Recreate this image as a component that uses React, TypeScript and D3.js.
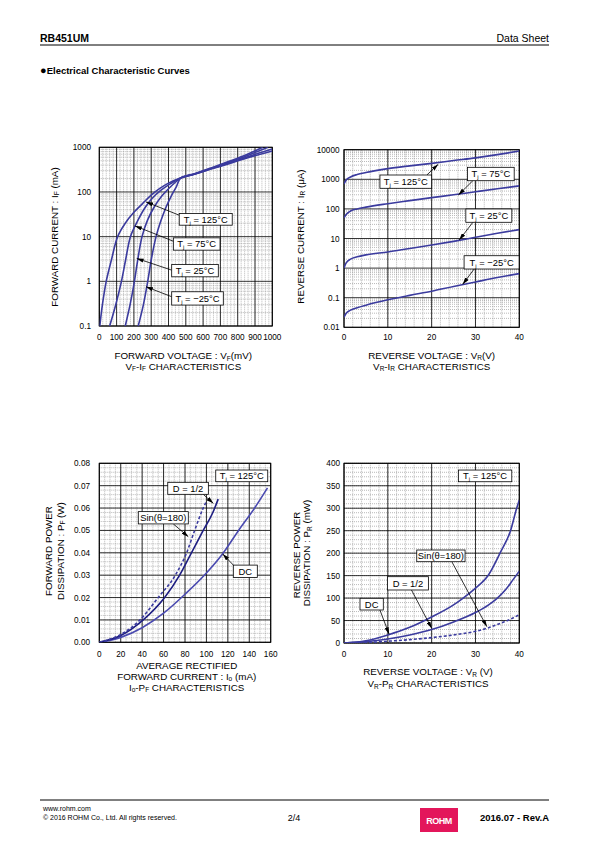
import React from "react";
import * as d3 from "d3";

type Pt = [number, number];

const FONT = "'Liberation Sans', Arial, Helvetica, sans-serif";

// ---------------- Chart 1 : VF - IF ----------------
const vfTicks = [0, 100, 200, 300, 400, 500, 600, 700, 800, 900, 1000];
const vfMinor = d3.range(0, 1001, 20);
const ifTicks = [0.1, 1, 10, 100, 1000];
const ifTickLabels = ["0.1", "1", "10", "100", "1000"];
const vfIf125: Pt[] = [[3, 0.1], [18, 0.3], [40, 1], [70, 3], [106, 10], [150, 20], [200, 35], [250, 55], [300, 85], [350, 120], [400, 158], [470, 205], [550, 250], [650, 330], [750, 430], [850, 570], [1000, 830]];
const vfIf75: Pt[] = [[60, 0.1], [95, 0.3], [128, 1], [152, 3], [180, 10], [220, 22], [265, 45], [310, 75], [355, 108], [410, 152], [470, 205], [550, 252], [650, 335], [750, 445], [850, 600], [1000, 920]];
const vfIf25: Pt[] = [[150, 0.1], [178, 0.3], [203, 1], [222, 3], [247, 10], [280, 24], [320, 48], [360, 80], [400, 118], [440, 165], [470, 205], [550, 254], [650, 340], [750, 465], [850, 640], [975, 1000]];
const vfIfM25: Pt[] = [[225, 0.1], [255, 0.3], [280, 1], [300, 3], [328, 10], [355, 22], [385, 45], [415, 80], [445, 130], [470, 205], [550, 256], [650, 350], [750, 485], [850, 680], [945, 1000]];

// ---------------- Chart 2 : VR - IR ----------------
const vrTicks = [0, 10, 20, 30, 40];
const vrMinor = d3.range(0, 41, 2);
const irTicks = [0.01, 0.1, 1, 10, 100, 1000, 10000];
const irTickLabels = ["0.01", "0.1", "1", "10", "100", "1000", "10000"];
const vrIr125: Pt[] = [[0, 700], [0.5, 950], [1.5, 1200], [3, 1450], [5, 1700], [10, 2300], [15, 2850], [20, 3450], [25, 4300], [30, 5300], [35, 6800], [40, 9000]];
const vrIr75: Pt[] = [[0, 50], [0.5, 65], [1.5, 85], [3, 100], [5, 115], [10, 150], [15, 190], [20, 240], [25, 300], [30, 380], [35, 480], [40, 600]];
const vrIr25: Pt[] = [[0, 1.0], [0.5, 1.5], [1.5, 2.0], [3, 2.4], [5, 2.8], [10, 3.5], [15, 4.6], [20, 6.0], [25, 8.0], [30, 11], [35, 15], [40, 20]];
const vrIrM25: Pt[] = [[0, 0.022], [0.5, 0.03], [1.5, 0.038], [3, 0.046], [5, 0.056], [10, 0.085], [15, 0.12], [20, 0.165], [25, 0.24], [30, 0.34], [35, 0.48], [40, 0.65]];

// ---------------- Chart 3 : Io - PF ----------------
const ioTicks = [0, 20, 40, 60, 80, 100, 120, 140, 160];
const ioMinor = d3.range(0, 161, 5);
const pfTicks = [0, 0.01, 0.02, 0.03, 0.04, 0.05, 0.06, 0.07, 0.08];
const pfTickLabels = ["0.00", "0.01", "0.02", "0.03", "0.04", "0.05", "0.06", "0.07", "0.08"];
const pfMinor = d3.range(0, 0.0801, 0.002);
const ioPfDC: Pt[] = [[0, 0], [20, 0.0022], [40, 0.0065], [60, 0.013], [80, 0.0215], [100, 0.031], [115, 0.0395], [130, 0.05], [145, 0.06], [157, 0.069]];
const ioPfHalf: Pt[] = [[0, 0], [20, 0.003], [41, 0.01], [61, 0.02], [75, 0.03], [86, 0.04], [97, 0.05], [106, 0.058], [111, 0.064]];
const ioPfSin: Pt[] = [[0, 0], [20, 0.0035], [38, 0.01], [55, 0.02], [71, 0.03], [81.5, 0.04], [89, 0.05], [97, 0.06], [100, 0.063]];

// ---------------- Chart 4 : VR - PR ----------------
const vr2Ticks = [0, 10, 20, 30, 40];
const vr2Minor = d3.range(0, 41, 2);
const prTicks = [0, 50, 100, 150, 200, 250, 300, 350, 400];
const prMinor = d3.range(0, 401, 10);
const vrPrDC: Pt[] = [[0, 0], [5, 5], [10, 18], [15, 35], [20, 58], [25, 85], [27.2, 100], [30, 122], [33, 152], [35.6, 200], [38, 250], [39.4, 300], [40, 318]];
const vrPrHalf: Pt[] = [[0, 0], [5, 3], [10, 9], [15, 18], [20, 30], [25, 47], [30, 68], [33, 85], [35, 100], [37, 120], [38.5, 140], [40, 160]];
const vrPrSin: Pt[] = [[0, 0], [5, 1], [10, 4], [15, 7.5], [20, 12], [25, 18], [30, 26], [33, 34], [36, 45], [38, 53], [40, 63]];

const logMinor = (lo: number, hi: number) => {
  const out: number[] = [];
  for (let d = lo; d < hi; d *= 10) for (let k = 2; k <= 9; k++) out.push(+(d * k).toPrecision(6));
  return out;
};

interface Series { data: Pt[]; color: string; width?: number; dash?: string }
interface Ann { box: Pt; w: number; h: number; label: React.ReactNode; from?: Pt; tip?: Pt }

function Panel(props: {
  id: string;
  x: any; y: any;
  xMajor: number[]; xMinor: number[]; yMajor: number[]; yMinor: number[];
  xLabels: string[]; yLabels: string[];
  yLabelRight: number; xLabelBaseline: number;
  series: Series[]; anns: Ann[]; curve?: any;
}) {
  const { id, x, y, xMajor, xMinor, yMajor, yMinor, xLabels, yLabels, series, anns } = props;
  const [x0, x1] = x.range();
  const [y0, y1] = y.range(); // y0 bottom, y1 top
  const line = d3.line<Pt>().x((d) => x(d[0])).y((d) => y(d[1])).curve(props.curve ?? d3.curveMonotoneX);
  return (
    <g>
      <defs>
        <clipPath id={id}>
          <rect x={x0} y={y1} width={x1 - x0} height={y0 - y1} />
        </clipPath>
      </defs>
      <rect x={x0} y={y1} width={x1 - x0} height={y0 - y1} fill="#fff" />
      {xMinor.map((v, i) => (
        <line key={"xm" + i} x1={x(v)} x2={x(v)} y1={y1} y2={y0} stroke="#8a8a8a" strokeWidth={0.6} strokeDasharray="1,1" />
      ))}
      {yMinor.map((v, i) => (
        <line key={"ym" + i} x1={x0} x2={x1} y1={y(v)} y2={y(v)} stroke="#8a8a8a" strokeWidth={0.6} strokeDasharray="1,1" />
      ))}
      {xMajor.map((v, i) => (
        <line key={"xM" + i} x1={x(v)} x2={x(v)} y1={y1} y2={y0} stroke="#000" strokeWidth={0.8} />
      ))}
      {yMajor.map((v, i) => (
        <line key={"yM" + i} x1={x0} x2={x1} y1={y(v)} y2={y(v)} stroke="#000" strokeWidth={0.8} />
      ))}
      <rect x={x0} y={y1} width={x1 - x0} height={y0 - y1} fill="none" stroke="#000" strokeWidth={1} />
      <g clipPath={`url(#${id})`}>
        {series.map((s, i) => (
          <path key={"s" + i} d={line(s.data) || ""} fill="none" stroke={s.color} strokeWidth={s.width ?? 1.6} strokeDasharray={s.dash} />
        ))}
      </g>
      {xMajor.map((v, i) => (
        <text key={"xl" + i} x={x(v)} y={props.xLabelBaseline} fontSize={8.2} textAnchor="middle">{xLabels[i]}</text>
      ))}
      {yMajor.map((v, i) => (
        <text key={"yl" + i} x={props.yLabelRight} y={y(v) + 3} fontSize={8.2} textAnchor="end">{yLabels[i]}</text>
      ))}
      {anns.map((a, i) => {
        const bx = x(a.box[0]);
        const by = y(a.box[1]);
        return (
          <g key={"a" + i}>
            {a.from && a.tip && (
              <line x1={x(a.from[0])} y1={y(a.from[1])} x2={x(a.tip[0])} y2={y(a.tip[1])} stroke="#000" strokeWidth={0.8} markerEnd="url(#arrowHead)" />
            )}
            <rect x={bx} y={by} width={a.w} height={a.h} fill="#fff" stroke="#000" strokeWidth={0.8} />
            <text x={bx + a.w / 2} y={by + a.h / 2 + 3.4} fontSize={9.4} textAnchor="middle">{a.label}</text>
          </g>
        );
      })}
    </g>
  );
}

const tj = (t: string) => (
  <>
    <tspan>T</tspan>
    <tspan fontSize={6} dy={2}>j</tspan>
    <tspan dy={-2}>{" = " + t}</tspan>
  </>
);

function sub(main: string, s: string, rest: string) {
  return (
    <>
      <tspan>{main}</tspan>
      <tspan fontSize={6.5} dy={1.6}>{s}</tspan>
      <tspan dy={-1.6}>{rest}</tspan>
    </>
  );
}

function sub2(a: string, s1: string, b: string, s2: string, rest: string) {
  return (
    <>
      <tspan>{a}</tspan>
      <tspan fontSize={6.5} dy={1.6}>{s1}</tspan>
      <tspan dy={-1.6}>{b}</tspan>
      <tspan fontSize={6.5} dy={1.6}>{s2}</tspan>
      <tspan dy={-1.6}>{rest}</tspan>
    </>
  );
}

export default function App() {
  const c1x = d3.scaleLinear().domain([0, 1000]).range([99.3, 272.3]);
  const c1y = d3.scaleLog().domain([0.1, 1000]).range([326, 147.3]);
  const c2x = d3.scaleLinear().domain([0, 40]).range([344, 519.3]);
  const c2y = d3.scaleLog().domain([0.01, 10000]).range([327.3, 149.7]);
  const c3x = d3.scaleLinear().domain([0, 160]).range([99.3, 270.7]);
  const c3y = d3.scaleLinear().domain([0, 0.08]).range([642.3, 463.3]);
  const c4x = d3.scaleLinear().domain([0, 40]).range([344, 519.3]);
  const c4y = d3.scaleLinear().domain([0, 400]).range([643, 463.3]);

  const BLUE = "#3b3b9e";
  const NAVY = "#1e1e82";
  const LIGHT = "#4a4ab0";
  const TS = 9.8;

  return (
    <svg width={595} height={842} viewBox="0 0 595 842" style={{ position: "absolute", left: 0, top: 0, background: "#fff" }} fontFamily={FONT}>
      <defs>
        <marker id="arrowHead" viewBox="0 0 10 6" refX={10} refY={3} markerWidth={7} markerHeight={4.2} markerUnits="userSpaceOnUse" orient="auto">
          <path d="M0,0 L10,3 L0,6 z" fill="#000" />
        </marker>
      </defs>
      <rect x={0} y={0} width={595} height={842} fill="#fff" />

      {/* header */}
      <text x={40} y={42} fontSize={10.5} fontWeight="bold">RB451UM</text>
      <text x={549} y={42} fontSize={10.5} textAnchor="end">Data Sheet</text>
      <line x1={40} x2={549} y1={45} y2={45} stroke="#000" strokeWidth={1} />
      <text x={40} y={74} fontSize={9.5} fontWeight="bold"><tspan fontSize={11}>●</tspan>Electrical Characteristic Curves</text>

      {/* Chart 1 */}
      <Panel id="c1" x={c1x} y={c1y} xMajor={vfTicks} xMinor={vfMinor} yMajor={ifTicks} yMinor={logMinor(0.1, 1000)}
        xLabels={vfTicks.map(String)} yLabels={ifTickLabels} yLabelRight={91} xLabelBaseline={339.5}
        curve={d3.curveCatmullRom.alpha(0.5)}
        series={[
          { data: vfIf125, color: BLUE }, { data: vfIf75, color: BLUE }, { data: vfIf25, color: BLUE }, { data: vfIfM25, color: BLUE },
        ]}
        anns={[
          { box: [462, 33.0], w: 53, h: 11.7, label: tj("125°C"), from: [462, 30.2], tip: [270, 59.9] },
          { box: [428, 9.4], w: 46.7, h: 12.3, label: tj("75°C"), from: [428, 7.9], tip: [206, 17.4] },
          { box: [418.5, 2.39], w: 46.6, h: 12.4, label: tj("25°C"), from: [418.5, 1.78], tip: [216, 3.26] },
          { box: [418.5, 0.584], w: 51.6, h: 13.3, label: tj("−25°C"), from: [418.5, 0.452], tip: [270, 0.755] },
        ]} />
      <text x={183.3} y={359} fontSize={TS} textAnchor="middle">{sub("FORWARD VOLTAGE : V", "F", "(mV)")}</text>
      <text x={183.3} y={369.5} fontSize={TS} textAnchor="middle">{sub2("V", "F", "-I", "F", " CHARACTERISTICS")}</text>
      <text transform="translate(57.5,237) rotate(-90)" fontSize={TS} textAnchor="middle">{sub("FORWARD CURRENT : I", "F", " (mA)")}</text>

      {/* Chart 2 */}
      <Panel id="c2" x={c2x} y={c2y} xMajor={vrTicks} xMinor={vrMinor} yMajor={irTicks} yMinor={logMinor(0.01, 10000)}
        xLabels={vrTicks.map(String)} yLabels={irTickLabels} yLabelRight={339.5} xLabelBaseline={340}
        series={[
          { data: vrIr125, color: BLUE }, { data: vrIr75, color: BLUE }, { data: vrIr25, color: BLUE }, { data: vrIrM25, color: BLUE },
        ]}
        anns={[
          { box: [8.2, 1397], w: 51.7, h: 13.3, label: tj("125°C"), from: [18.9, 1397], tip: [21.5, 3213] },
          { box: [28.2, 2541], w: 46.6, h: 13.4, label: tj("75°C"), from: [29.4, 897], tip: [26.1, 295] },
          { box: [27.8, 99.3], w: 46, h: 13.3, label: tj("25°C"), from: [29.4, 35.2], tip: [26.3, 8.9] },
          { box: [27.4, 2.62], w: 55, h: 13.3, label: tj("−25°C"), from: [29.7, 0.933], tip: [27.1, 0.284] },
        ]} />
      <text x={431.7} y={358.5} fontSize={TS} textAnchor="middle">{sub("REVERSE VOLTAGE : V", "R", "(V)")}</text>
      <text x={431.7} y={369.5} fontSize={TS} textAnchor="middle">{sub2("V", "R", "-I", "R", " CHARACTERISTICS")}</text>
      <text transform="translate(303.5,236.5) rotate(-90)" fontSize={TS} textAnchor="middle">{sub("REVERSE CURRENT : I", "R", " (μA)")}</text>

      {/* Chart 3 */}
      <Panel id="c3" x={c3x} y={c3y} xMajor={ioTicks} xMinor={ioMinor} yMajor={pfTicks} yMinor={pfMinor}
        xLabels={ioTicks.map(String)} yLabels={pfTickLabels} yLabelRight={90} xLabelBaseline={657}
        series={[
          { data: ioPfDC, color: LIGHT }, { data: ioPfHalf, color: NAVY }, { data: ioPfSin, color: BLUE, dash: "3,2" },
        ]}
        anns={[
          { box: [108.7, 0.077], w: 52, h: 11.7, label: tj("125°C") },
          { box: [63.9, 0.0715], w: 40.6, h: 12, label: "D = 1/2", from: [97.1, 0.0661], tip: [106.4, 0.0621] },
          { box: [36.4, 0.0584], w: 50, h: 12.3, label: "Sin(θ=180)", from: [69.1, 0.0529], tip: [83.1, 0.0472] },
          { box: [125.1, 0.0345], w: 24, h: 12.3, label: "DC", from: [125.1, 0.0345], tip: [115.2, 0.0395] },
        ]} />
      <text x={186.7} y={668.5} fontSize={TS} textAnchor="middle">AVERAGE RECTIFIED</text>
      <text x={186.7} y={679.5} fontSize={TS} textAnchor="middle">{sub("FORWARD CURRENT : I", "o", " (mA)")}</text>
      <text x={186.7} y={690.5} fontSize={TS} textAnchor="middle">{sub2("I", "o", "-P", "F", " CHARACTERISTICS")}</text>
      <text transform="translate(51.8,551) rotate(-90)" fontSize={TS} textAnchor="middle">FORWARD POWER</text>
      <text transform="translate(63.5,551) rotate(-90)" fontSize={TS} textAnchor="middle">{sub("DISSIPATION : P", "F", " (W)")}</text>

      {/* Chart 4 */}
      <Panel id="c4" x={c4x} y={c4y} xMajor={vr2Ticks} xMinor={vr2Minor} yMajor={prTicks} yMinor={prMinor}
        xLabels={vr2Ticks.map(String)} yLabels={prTicks.map(String)} yLabelRight={340} xLabelBaseline={657}
        series={[
          { data: vrPrDC, color: BLUE }, { data: vrPrHalf, color: BLUE }, { data: vrPrSin, color: BLUE, dash: "3,2" },
        ]}
        anns={[
          { box: [26.1, 385], w: 53.4, h: 11.7, label: tj("125°C") },
          { box: [16.6, 207], w: 48.3, h: 11.7, label: "Sin(θ=180)", from: [24.6, 181], tip: [32.6, 36.3] },
          { box: [9.9, 147.6], w: 41, h: 13.3, label: "D = 1/2", from: [15.4, 118], tip: [20.0, 32.7] },
          { box: [3.65, 99.5], w: 23.3, h: 11.7, label: "DC", from: [8.2, 73.4], tip: [10.3, 19.4] },
        ]} />
      <text x={428} y={675} fontSize={TS} textAnchor="middle">{sub("REVERSE VOLTAGE : V", "R", " (V)")}</text>
      <text x={428} y={687} fontSize={TS} textAnchor="middle">{sub2("V", "R", "-P", "R", " CHARACTERISTICS")}</text>
      <text transform="translate(300.3,555) rotate(-90)" fontSize={TS} textAnchor="middle">REVERSE POWER</text>
      <text transform="translate(310.3,553) rotate(-90)" fontSize={TS} textAnchor="middle">{sub("DISSIPATION : P", "R", " (mW)")}</text>

      {/* footer */}
      <line x1={40} x2={549} y1={800} y2={800} stroke="#000" strokeWidth={1} />
      <text x={43} y={811} fontSize={7}>www.rohm.com</text>
      <text x={43} y={820} fontSize={7}>© 2016  ROHM Co., Ltd. All rights reserved.</text>
      <text x={294} y={821} fontSize={9} textAnchor="middle">2/4</text>
      <rect x={420} y={808} width={38} height={24} fill="#e3165b" />
      <text x={439} y={823.5} fontSize={9} fontWeight="bold" fill="#fff" textAnchor="middle" letterSpacing={-0.5}>ROHM</text>
      <text x={549} y={821} fontSize={9.5} fontWeight="bold" textAnchor="end">2016.07 -  Rev.A</text>
    </svg>
  );
}
